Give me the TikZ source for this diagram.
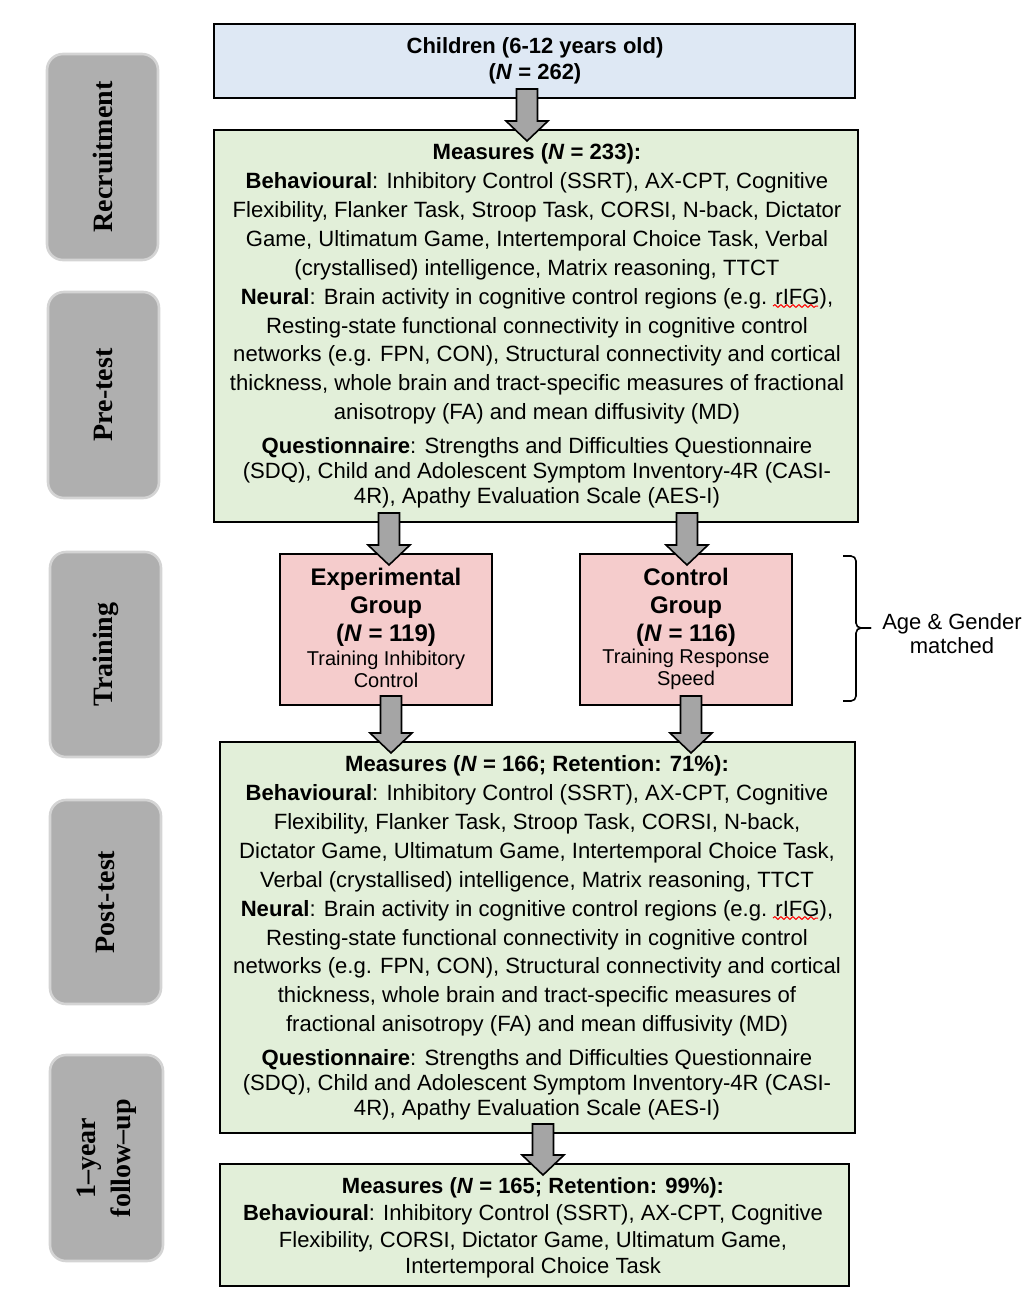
\documentclass[tikz,border=0pt]{standalone}
\usepackage{fontspec}
\setmainfont{Liberation Sans}
\newfontfamily\sidefont{Liberation Serif}
\usetikzlibrary{calc,fit,decorations.pathmorphing}
\definecolor{boxblue}{HTML}{DEE8F4}
\definecolor{boxgreen}{HTML}{E2EFD9}
\definecolor{boxpink}{HTML}{F5CCCC}
\definecolor{sidegray}{HTML}{AFAFAF}
\definecolor{sideedge}{HTML}{D4D4D4}
\definecolor{arrowgray}{HTML}{A5A5A5}
\tikzset{
  box/.style={draw=black, line width=1pt, inner sep=0pt, outer sep=0pt},
  bluebox/.style={box, fill=boxblue},
  greenbox/.style={box, fill=boxgreen},
  pinkbox/.style={box, fill=boxpink},
  sidebox/.style={draw=sideedge, line width=1.3pt, fill=sidegray, rounded corners=8pt, inner sep=0pt, outer sep=0pt},
  sidetext/.style={rotate=90, align=center, inner sep=0pt, font=\sidefont\bfseries\fontsize{14}{17.5}\selectfont},
  mtext/.style={align=center, inner sep=0pt, font=\fontsize{11.05}{14.45}\selectfont},
  qtext/.style={align=center, inner sep=0pt, font=\fontsize{11.05}{12.5}\selectfont},
  m3text/.style={align=center, inner sep=0pt, font=\fontsize{11}{13.3}\selectfont},
  toptext/.style={align=center, inner sep=0pt, font=\bfseries\fontsize{11}{13}\selectfont},
  grouphead/.style={align=center, inner sep=0pt, font=\bfseries\fontsize{12}{14}\selectfont},
  groupsub/.style={align=center, inner sep=0pt, font=\fontsize{10}{11}\selectfont},
  sidenote/.style={align=center, inner sep=0pt, font=\fontsize{11}{12}\selectfont},
  barrow/.style={draw=black, line width=0.8pt, fill=arrowgray, line join=miter},
  spell/.style={draw=red, line width=0.5pt, decorate, decoration={snake, segment length=3pt, amplitude=0.7pt}},
  bracestyle/.style={draw=black, line width=0.8pt, rounded corners=2.5pt}
}
% #1 x-coordinate name, #2 upper node, #3 lower node
\newcommand\blockarrow[3]{%
  \draw[barrow] ($(#2.south -| #1)+(-10.5,-9)$) -- ($(#2.south -| #1)+(10.5,-9)$)
    -- ($(#3.north -| #1)+(10.5,-9)$) -- ($(#3.north -| #1)+(21,-9)$)
    -- ($(#3.north -| #1)+(0,11)$) -- ($(#3.north -| #1)+(-21,-9)$)
    -- ($(#3.north -| #1)+(-10.5,-9)$) -- cycle;}
\begin{document}
\begin{tikzpicture}[x=0.5pt, y=-0.5pt]
\useasboundingbox (0,0) rectangle (1034,1312);

% side labels
\node[sidebox, fit={(47,54) (158,260)}] (s1) {};
\node[sidebox, fit={(48,292) (159,498)}] (s2) {};
\node[sidebox, fit={(50,552) (161,757)}] (s3) {};
\node[sidebox, fit={(50,800) (161,1004)}] (s4) {};
\node[sidebox, fit={(50,1055) (163,1261)}] (s5) {};
\node[sidetext] (s1t) at (s1.center) {Recruitment};
\node[sidetext] (s2t) at (s2.center) {Pre-test};
\node[sidetext] (s3t) at (s3.center) {Training};
\node[sidetext] (s4t) at (s4.center) {Post-test};
\node[sidetext] (s5t) at (s5.center) {1–year\\follow–up};

% boxes
\node[bluebox, fit={(214,24) (855,98)}] (top) {};
\node[greenbox, fit={(214,130) (858,522)}] (m1) {};
\node[pinkbox, fit={(280,554) (492,705)}] (exp) {};
\node[pinkbox, fit={(580,554) (792,705)}] (ctl) {};
\node[greenbox, fit={(220,742) (855,1133)}] (m2) {};
\node[greenbox, fit={(220,1164) (849,1286)}] (m3) {};

% arrows
\coordinate (ax1) at (527,0);
\coordinate (ax2) at (389,0);
\coordinate (ax3) at (687,0);
\coordinate (ax4) at (391,0);
\coordinate (ax5) at (691,0);
\coordinate (ax6) at (543,0);
\blockarrow{ax1}{top}{m1}
\blockarrow{ax2}{m1}{exp}
\blockarrow{ax3}{m1}{ctl}
\blockarrow{ax4}{exp}{m2}
\blockarrow{ax5}{ctl}{m2}
\blockarrow{ax6}{m2}{m3}

% texts
\node[toptext] (topt) at (535,61) {Children (6-12 years old)\\(\textit{N} = 262)};

\node[mtext] (m1a) at (537,284) {\textbf{Measures (\textit{N} = 233):}\\
\textbf{Behavioural}: Inhibitory Control (SSRT), AX-CPT, Cognitive\\
Flexibility, Flanker Task, Stroop Task, CORSI, N-back, Dictator\\
Game, Ultimatum Game, Intertemporal Choice Task, Verbal\\
(crystallised) intelligence, Matrix reasoning, TTCT\\
\textbf{Neural}: Brain activity in cognitive control regions (e.g. rIFG),\\
Resting-state functional connectivity in cognitive control\\
networks (e.g. FPN, CON), Structural connectivity and cortical\\
thickness, whole brain and tract-specific measures of fractional\\
anisotropy (FA) and mean diffusivity (MD)};
\node[qtext] (m1q) at (537,473) {\textbf{Questionnaire}: Strengths and Difficulties Questionnaire\\
(SDQ), Child and Adolescent Symptom Inventory-4R (CASI-\\
4R), Apathy Evaluation Scale (AES-I)};

\node[grouphead] (expa) at (386,607) {Experimental\\Group\\(\textit{N} = 119)};
\node[groupsub] (expb) at (386,669) {Training Inhibitory\\Control};
\node[grouphead] (ctla) at (686,607) {Control\\Group\\(\textit{N} = 116)};
\node[groupsub] (ctlb) at (686,669) {Training Response\\Speed};

\node[mtext] (m2a) at (537,896) {\textbf{Measures (\textit{N} = 166; Retention: 71\%):}\\
\textbf{Behavioural}: Inhibitory Control (SSRT), AX-CPT, Cognitive\\
Flexibility, Flanker Task, Stroop Task, CORSI, N-back,\\
Dictator Game, Ultimatum Game, Intertemporal Choice Task,\\
Verbal (crystallised) intelligence, Matrix reasoning, TTCT\\
\textbf{Neural}: Brain activity in cognitive control regions (e.g. rIFG),\\
Resting-state functional connectivity in cognitive control\\
networks (e.g. FPN, CON), Structural connectivity and cortical\\
thickness, whole brain and tract-specific measures of\\
fractional anisotropy (FA) and mean diffusivity (MD)};
\node[qtext] (m2q) at (537,1085) {\textbf{Questionnaire}: Strengths and Difficulties Questionnaire\\
(SDQ), Child and Adolescent Symptom Inventory-4R (CASI-\\
4R), Apathy Evaluation Scale (AES-I)};

\node[m3text] (m3a) at (533,1228) {\textbf{Measures (\textit{N} = 165; Retention: 99\%):}\\
\textbf{Behavioural}: Inhibitory Control (SSRT), AX-CPT, Cognitive\\
Flexibility, CORSI, Dictator Game, Ultimatum Game,\\
Intertemporal Choice Task};

% spelling marks
\coordinate (sp1a) at (773,306);
\coordinate (sp1b) at (818,306);
\coordinate (sp2a) at (773,918);
\coordinate (sp2b) at (818,918);
\draw[spell] (sp1a) -- (sp1b);
\draw[spell] (sp2a) -- (sp2b);

% brace
\coordinate (brtop) at (843,556);
\coordinate (brtopc) at (856,556);
\coordinate (brmid) at (856,628);
\coordinate (brtip) at (871,628);
\coordinate (brbotc) at (856,701);
\coordinate (brbot) at (843,701);
\draw[bracestyle] (brtop) -- (brtopc) -- (brmid) -- (brtip);
\draw[bracestyle] (brtip) -- (brmid) -- (brbotc) -- (brbot);
\node[sidenote] (agt) at (952,634) {Age \& Gender\\matched};
\end{tikzpicture}
\end{document}
